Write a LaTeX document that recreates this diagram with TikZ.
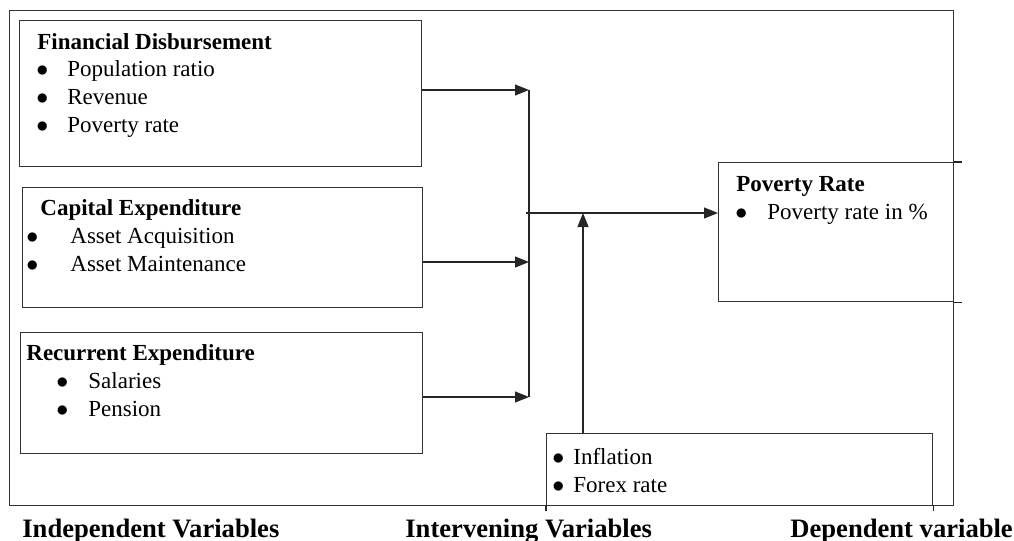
\documentclass[tikz,border=0pt]{standalone}
\usepackage{fontspec}
\setmainfont{Liberation Serif}
\usetikzlibrary{arrows.meta}
\newcommand{\bitem}[2]{\makebox[#1][l]{\ensuremath{\bullet}}#2}

\begin{document}
\begin{tikzpicture}[x=0.5pt,y=-0.5pt,
		box/.style={draw=black!80,line width=0.6pt,inner sep=0pt,anchor=north west},
		txt/.style={anchor=base west,inner sep=0pt,font=\fontsize{11.5}{14}\selectfont},
		head/.style={txt,font=\fontsize{11.5}{14}\selectfont\bfseries},
		foot/.style={anchor=base west,inner sep=0pt,font=\fontsize{13.3}{16}\selectfont\bfseries},
		link/.style={draw=black!85,line width=0.6pt,-{Triangle[length=7pt,width=5.5pt]}},
		wire/.style={draw=black!85,line width=0.6pt}]
		\useasboundingbox (0,0) rectangle (1014,541);

		\node (frame) [box,minimum width=472pt,minimum height=247.5pt] at (9,10) {};

		\node (fin) [box,minimum width=201pt,minimum height=73pt] at (19,20) {};
		\node (cap) [box,minimum width=200pt,minimum height=60pt] at (22,187) {};
		\node (rec) [box,minimum width=201pt,minimum height=60.5pt] at (20,332) {};
		\node (pov) [box,minimum width=117.5pt,minimum height=69.5pt] at (718,162) {};
		\node (infl) [box,minimum width=193pt,minimum height=36pt] at (546,433) {};
		\draw[wire] (pov.north east) -- ++(8,0);
		\draw[wire] (pov.south east) -- ++(8,0);
		\draw[wire] (infl.south west) -- ++(0,5);
		\draw[wire] (infl.south east) -- ++(0,5);

		\node (finh) [head] at (37,49) {Financial Disbursement};
		\node (fin1) [txt] at (36,76) {\bitem{15.5pt}{Population ratio}};
		\node (fin2) [txt] at (36,104) {\bitem{15.5pt}{Revenue}};
		\node (fin3) [txt] at (36,132) {\bitem{15.5pt}{Poverty rate}};

		\node (caph) [head] at (40,215) {Capital Expenditure};
		\node (cap1) [txt] at (26,243) {\bitem{22pt}{Asset Acquisition}};
		\node (cap2) [txt] at (26,271) {\bitem{22pt}{Asset Maintenance}};

		\node (rech) [head] at (26,360) {Recurrent Expenditure};
		\node (rec1) [txt] at (56,388) {\bitem{16pt}{Salaries}};
		\node (rec2) [txt] at (56,416) {\bitem{16pt}{Pension}};

		\node (povh) [head] at (736,191) {Poverty Rate};
		\node (pov1) [txt] at (735,219) {\bitem{16pt}{Poverty rate in \%}};

		\node (infl1) [txt] at (552,464) {\bitem{10.5pt}{Inflation}};
		\node (infl2) [txt] at (552,492) {\bitem{10.5pt}{Forex rate}};

		\coordinate (j1) at (529,90);
		\coordinate (j2) at (529,262);
		\coordinate (j3) at (529,397);
		\coordinate (jm) at (526,213);
		\coordinate (up) at (583,213);

		\draw[link] (fin.east |- j1) -- (j1);
		\draw[link] (cap.east |- j2) -- (j2);
		\draw[link] (rec.east |- j3) -- (j3);
		\draw[wire] (j1) -- (j3);
		\draw[link] (jm) -- (pov.west |- jm);
		\draw[link] (infl.north -| up) -- (up);

		\node (indep) [foot] at (22,537) {Independent Variables};
		\node (inter) [foot] at (405,537) {Intervening Variables};
		\node (dep) [foot] at (790,537) {Dependent variable};
	\end{tikzpicture}
\end{document}
